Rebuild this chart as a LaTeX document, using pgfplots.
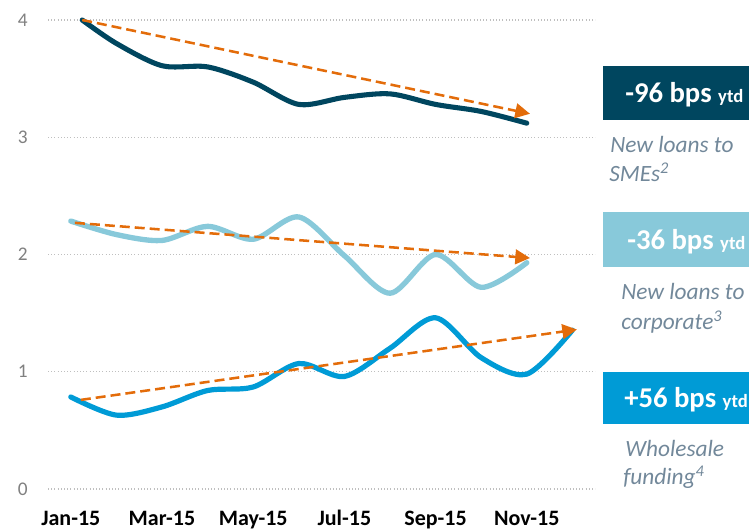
\documentclass[border=0pt]{standalone}
\usepackage{fontspec}
\setmainfont{Carlito}
\usepackage{pgfplots}
\pgfplotsset{compat=1.18}
\usetikzlibrary{arrows.meta}
\definecolor{navy}{HTML}{00465F}
\definecolor{lblue}{HTML}{88C9DA}
\definecolor{mblue}{HTML}{009BD6}
\definecolor{orng}{HTML}{E36C0A}
\definecolor{lab}{HTML}{72889A}
\definecolor{tickc}{HTML}{808080}
\begin{document}
\begin{tikzpicture}
\useasboundingbox (0,0) rectangle (561.75pt,397.5pt);
\begin{axis}[
  at={(36pt,30.75pt)}, anchor=south west,
  scale only axis, width=410.4pt, height=351.75pt,
  xmin=-0.5, xmax=11.5, ymin=0, ymax=4,
  clip=false,
  axis line style={draw=none},
  major tick length=0pt,
  ytick={0,1,2,3,4},
  xtick={0,2,4,6,8,10},
  xticklabels={Jan-15,Mar-15,May-15,Jul-15,Sep-15,Nov-15},
  ymajorgrids,
  grid style={dotted, color=gray!50, line width=0.8pt},
  yticklabel style={font=\fontsize{14.5}{16}\selectfont, text=tickc, anchor=east, inner sep=0pt, xshift=-15pt},
  xticklabel style={font=\bfseries\fontsize{16.5}{18}\selectfont, text=black, anchor=base, inner sep=0pt, yshift=-27.5pt},
  /pgf/number format/assume math mode=true,
]
\addplot[navy, line width=3.8pt, smooth, line cap=round] coordinates {(0.25,4.0) (1,3.80) (2,3.61) (3,3.60) (4,3.47) (5,3.28) (6,3.34) (7,3.37) (8,3.28) (9,3.22) (10,3.12)};
\addplot[lblue, line width=4pt, smooth, line cap=round] coordinates {(0,2.285) (1,2.17) (2,2.12) (3,2.24) (4,2.13) (5,2.32) (6,1.99) (7,1.67) (8,2.0) (9,1.72) (10,1.93)};
\addplot[mblue, line width=3.9pt, smooth, line cap=round] coordinates {(0,0.785) (1,0.63) (2,0.70) (3,0.84) (4,0.87) (5,1.07) (6,0.96) (7,1.20) (8,1.46) (9,1.12) (10,0.98) (11,1.355)};
\addplot[orng, line width=1.9pt, dash pattern=on 7.5pt off 3.75pt, -{Triangle[length=11pt,width=11pt]}] coordinates {(0.25,4.0) (10.07,3.2)};
\addplot[orng, line width=1.9pt, dash pattern=on 7.5pt off 3.75pt, -{Triangle[length=11pt,width=11pt]}] coordinates {(0.09,2.27) (10.07,1.97)};
\addplot[orng, line width=1.9pt, dash pattern=on 7.5pt off 3.75pt, -{Triangle[length=11pt,width=11pt]}] coordinates {(0.22,0.76) (11.1,1.36)};
\end{axis}
\begin{scope}[x=0.75pt,y=0.75pt]
\fill[navy] (603,410) rectangle (749,464);
\fill[lblue] (603,263) rectangle (749,318);
\fill[mblue] (603,106) rectangle (749,158);
\node[anchor=base west, text=white, font=\bfseries\fontsize{21.5}{24}\selectfont, inner sep=0pt] at (625,427) {-96 bps {\fontsize{14}{16}\selectfont ytd}};
\node[anchor=base west, text=white, font=\bfseries\fontsize{21.5}{24}\selectfont, inner sep=0pt] at (627,280) {-36 bps {\fontsize{14}{16}\selectfont ytd}};
\node[anchor=base west, text=white, font=\bfseries\fontsize{21.5}{24}\selectfont, inner sep=0pt] at (624,122) {+56 bps {\fontsize{14}{16}\selectfont ytd}};
\begin{scope}[every node/.style={anchor=base west, text=lab, font=\itshape\fontsize{17.5}{20}\selectfont, inner sep=0pt}]
\node at (610,377) {New loans to};
\node at (609,348) {SMEs\textsuperscript{2}};
\node at (621,230) {New loans to};
\node at (621,200) {corporate\textsuperscript{3}};
\node at (625,73) {Wholesale};
\node at (623,45) {funding\textsuperscript{4}};
\end{scope}
\end{scope}
\end{tikzpicture}
\end{document}
